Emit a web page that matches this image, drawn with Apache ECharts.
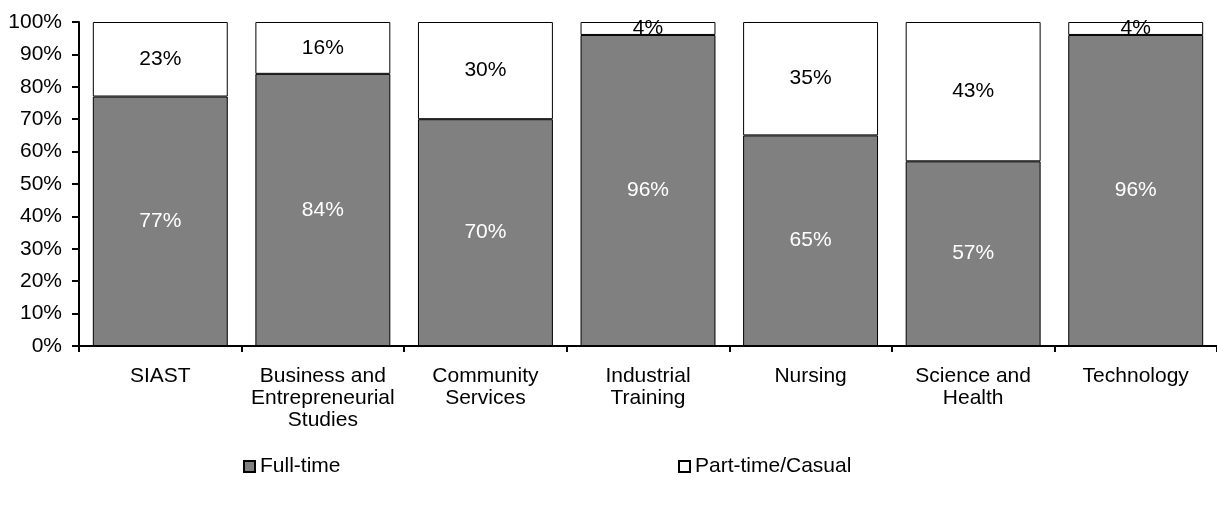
<!DOCTYPE html>
<html><head><meta charset="utf-8">
<script src="https://cdn.jsdelivr.net/npm/echarts@6/dist/echarts.min.js"></script>
<style>html,body{margin:0;padding:0;background:#fff}#c{width:1217px;height:505px}</style>
</head><body><div id="c"></div>
<script>
const categories = ["SIAST","Business and\nEntrepreneurial\nStudies","Community\nServices","Industrial\nTraining","Nursing","Science and\nHealth","Technology"];
const fullTime = [77,84,70,96,65,57,96];
const partTime = [23,16,30,4,35,43,4];
const yTicks = [0,10,20,30,40,50,60,70,80,90,100];
const font = "Liberation Sans, Arial, sans-serif";
const fs = 21;
const chart = echarts.init(document.getElementById('c'));
chart.setOption({
  animation:false,
  textStyle:{fontFamily:font},
  grid:{left:79,right:-2,top:22,bottom:159,containLabel:false},
  legend:[
    {data:[{name:'Full-time'}],left:243,top:456,padding:0,itemWidth:11,itemHeight:11,itemGap:3,textStyle:{fontSize:fs,color:'#000',fontFamily:font},icon:'rect'},
    {data:[{name:'Part-time/Casual'}],left:678,top:456,padding:0,itemWidth:11,itemHeight:11,itemGap:3,textStyle:{fontSize:fs,color:'#000',fontFamily:font},icon:'rect'}
  ],
  xAxis:{type:'category',data:categories,
    axisLine:{lineStyle:{color:'#000',width:2}},
    axisTick:{show:true,inside:false,length:6,lineStyle:{color:'#000',width:2}},
    axisLabel:{fontSize:fs,color:'#000',lineHeight:22,margin:19,interval:0,fontFamily:font}
  },
  yAxis:{type:'value',min:0,max:100,interval:10,
    axisLine:{show:true,lineStyle:{color:'#000',width:2}},
    axisTick:{show:true,length:7,lineStyle:{color:'#000',width:2}},
    splitLine:{show:false},
    axisLabel:{fontSize:fs,color:'#000',margin:17,fontFamily:font,formatter:v=>yTicks.includes(v)?v+'%':''}
  },
  series:[
    {name:'Full-time',type:'bar',stack:'a',data:fullTime,barWidth:'83%',
      itemStyle:{color:'#808080',borderColor:'#000',borderWidth:1},
      label:{show:true,position:'inside',color:'#fff',fontSize:fs,fontFamily:font,formatter:'{c}%'}},
    {name:'Part-time/Casual',type:'bar',stack:'a',data:partTime,barWidth:'83%',
      itemStyle:{color:'#fff',borderColor:'#000',borderWidth:1},
      label:{show:true,position:'inside',color:'#000',fontSize:fs,fontFamily:font,formatter:'{c}%'}}
  ]
});
</script></body></html>
